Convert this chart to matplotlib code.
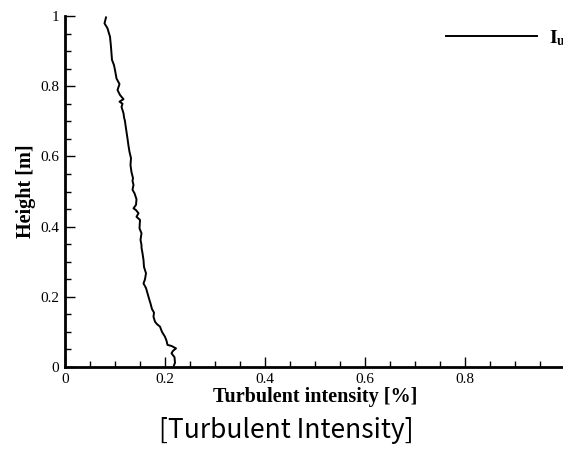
import numpy as np
import matplotlib
matplotlib.use('Agg')
import matplotlib.pyplot as plt
from matplotlib.ticker import MultipleLocator, FuncFormatter

# turbulent intensity profile (bottom to top)
intensity = [0.218, 0.220, 0.219, 0.213, 0.216, 0.222, 0.213, 0.205, 0.203,
             0.200, 0.194, 0.190, 0.184, 0.180, 0.177, 0.178, 0.174, 0.171,
             0.168, 0.165, 0.162, 0.157, 0.160, 0.162, 0.158, 0.157, 0.155,
             0.153, 0.153, 0.151, 0.153, 0.149, 0.150, 0.143, 0.147, 0.142,
             0.137, 0.142, 0.143, 0.139, 0.135, 0.137, 0.135, 0.136, 0.133,
             0.131, 0.132, 0.129, 0.127, 0.125, 0.123, 0.121, 0.120, 0.118,
             0.117, 0.113, 0.115, 0.109, 0.117, 0.110, 0.105, 0.109, 0.103,
             0.100, 0.098, 0.094, 0.093, 0.092, 0.090, 0.087, 0.085, 0.079,
             0.082]
height = [0.005, 0.012, 0.028, 0.039, 0.046, 0.053, 0.060, 0.063, 0.075,
          0.086, 0.100, 0.115, 0.122, 0.129, 0.143, 0.155, 0.165, 0.181,
          0.195, 0.210, 0.225, 0.238, 0.250, 0.267, 0.285, 0.305, 0.324,
          0.340, 0.348, 0.362, 0.381, 0.395, 0.419, 0.428, 0.438, 0.447,
          0.452, 0.462, 0.478, 0.495, 0.505, 0.519, 0.530, 0.538, 0.555,
          0.575, 0.595, 0.613, 0.630, 0.651, 0.670, 0.689, 0.700, 0.712,
          0.723, 0.741, 0.750, 0.756, 0.763, 0.775, 0.789, 0.806, 0.822,
          0.846, 0.860, 0.875, 0.893, 0.912, 0.941, 0.955, 0.965, 0.979,
          0.996]

plt.rcParams['font.family'] = 'Liberation Serif'
plt.rcParams['mathtext.fontset'] = 'stix'

fig = plt.figure(figsize=(5.63, 4.54), dpi=100)
ax = fig.add_axes([65 / 563, 87 / 454, 500 / 563, 351 / 454])

ax.plot(intensity, height, color='black', lw=1.4, label=r'$\mathbf{I_u}$')

ax.set_xlim(0, 1)
ax.set_ylim(0, 1)
ax.spines['top'].set_visible(False)
ax.spines['right'].set_visible(False)
ax.spines['left'].set_linewidth(2)
ax.spines['bottom'].set_linewidth(2)

ax.xaxis.set_major_locator(MultipleLocator(0.2))
ax.xaxis.set_minor_locator(MultipleLocator(0.05))
ax.yaxis.set_major_locator(MultipleLocator(0.2))
ax.yaxis.set_minor_locator(MultipleLocator(0.05))
fmt = FuncFormatter(lambda v, p: '%g' % round(v, 2))
ax.xaxis.set_major_formatter(fmt)
ax.yaxis.set_major_formatter(fmt)
ax.tick_params(which='both', direction='in', labelsize=11, width=1)
ax.tick_params(which='major', length=7)
ax.tick_params(which='minor', length=4)
ax.tick_params(axis='x', pad=4)
ax.tick_params(axis='y', pad=4)

ax.set_xlabel('Turbulent intensity [%]', fontsize=14.5, fontweight='bold', labelpad=1)
ax.set_ylabel('Height [m]', fontsize=14.5, fontweight='bold', labelpad=3)

fig.legend(loc='center left', bbox_to_anchor=(446 / 563, 1 - 38 / 454),
           frameon=False, fontsize=14, handlelength=4.7, handletextpad=0.6,
           borderpad=0, borderaxespad=0)

fig.text(286 / 563, 1 - 430 / 454, '[Turbulent Intensity]', ha='center',
         va='center', fontsize=19, family='Noto Sans CJK KR')

fig.savefig('out.png', dpi=100)
